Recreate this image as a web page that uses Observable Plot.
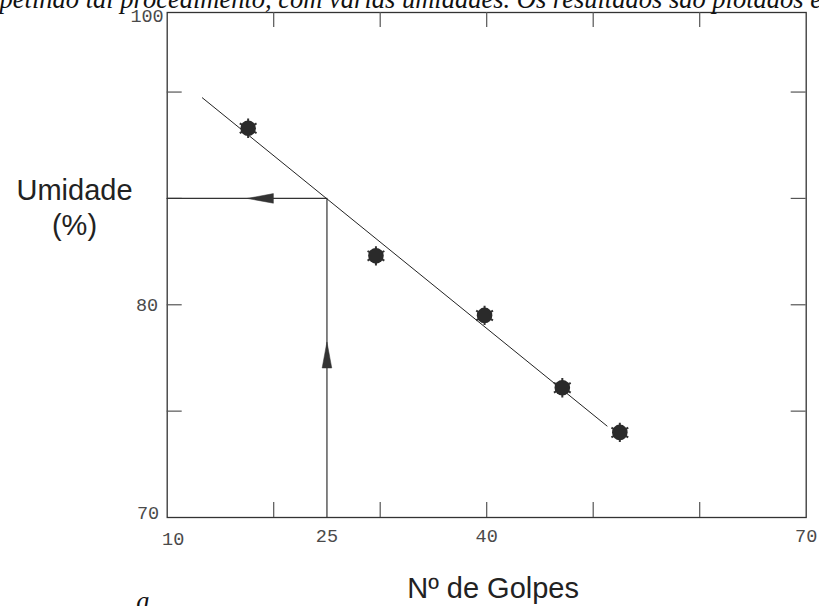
<!DOCTYPE html>
<html><head><meta charset="utf-8">
<script src="https://cdn.jsdelivr.net/npm/d3@7"></script>
<script src="https://cdn.jsdelivr.net/npm/@observablehq/plot@0.6"></script>
<style>
html,body{margin:0;padding:0;background:#fff;overflow:hidden}
#chart{position:relative;width:819px;height:606px}
</style></head><body><div id="chart"></div>
<script>
// ---- data ----
const golpes = [17.6, 29.6, 39.8, 47.1, 52.5];
const umidade = [88.3, 82.3, 79.5, 76.1, 74.0];
const fitGolpes = [13.3, 51.3];
const fitUmidade = [89.73, 74.3];
const refGolpes = [10, 25, 25];
const refUmidade = [85, 85, 70];
const arrowGolpes = [18.75, 25];
const arrowUmidade = [85, 77.64];
const arrowRotate = [-90, 0];
const xDomain = [10, 70];
const yDomain = [70, 93.74];
const xTicks = [20, 30, 40, 50, 60];
const yTicks = [75, 80, 85, 90];
const xLabelValues = [10, 25, 40, 70];
const xLabelTexts = ["10", "25", "40", "70"];
const yLabelValues = [70, 80, 93.74];
const yLabelTexts = ["70", "80", "100"];
const caption = "repetindo tal procedimento, com várias umidades. Os resultados são plotados em";
const yTitle = "Umidade\n(%)";
const xTitle = "Nº de Golpes";
const footLetter = "a";

// ---- layout ----
const W = 819, H = 606;
const mL = 166.7, mR = 13.3, mT = 12, mB = 89;
const frameH = H - mT - mB, frameW = W - mL - mR;
const tickLen = 15;

const points = golpes.map((g, i) => ({g, u: umidade[i]}));
const fit = fitGolpes.map((g, i) => ({g, u: fitUmidade[i]}));
const ref = refGolpes.map((g, i) => ({g, u: refUmidade[i]}));
const arrows = arrowGolpes.map((g, i) => ({g, u: arrowUmidade[i], r: arrowRotate[i]}));
const xLabels = xLabelValues.map((v, i) => ({v, t: xLabelTexts[i]}));
const yLabels = yLabelValues.map((v, i) => ({v, t: yLabelTexts[i]}));

const arrowHead = {draw(ctx) { ctx.moveTo(0, -13); ctx.lineTo(4.8, 13); ctx.lineTo(-4.8, 13); ctx.closePath(); }};

const monoFont = {fontFamily: "Liberation Mono, DejaVu Sans Mono, monospace", fontSize: 18.5, fill: "#4a4a4a"};
const sansFont = {fontFamily: "Liberation Sans, Arial, sans-serif", fontSize: 29, fill: "#222"};
const serifItalic = {fontFamily: "Liberation Serif, Times New Roman, serif", fontStyle: "italic", fontSize: 26.5, fill: "#111"};

const chart = Plot.plot({
  width: W, height: H,
  marginLeft: mL, marginRight: mR, marginTop: mT, marginBottom: mB,
  x: {domain: xDomain, axis: null},
  y: {domain: yDomain, axis: null},
  marks: [
    Plot.frame({stroke: "#333", strokeWidth: 1.3}),
    Plot.tickX(xTicks, {x: d => d, insetTop: frameH - tickLen, stroke: "#555", strokeWidth: 1.2}),
    Plot.tickX(xTicks, {x: d => d, insetBottom: frameH - tickLen, stroke: "#555", strokeWidth: 1.2}),
    Plot.tickY(yTicks, {y: d => d, insetRight: frameW - tickLen, stroke: "#555", strokeWidth: 1.2}),
    Plot.tickY(yTicks, {y: d => d, insetLeft: frameW - tickLen, stroke: "#555", strokeWidth: 1.2}),
    Plot.line(ref, {x: "g", y: "u", stroke: "#333", strokeWidth: 1.2}),
    Plot.line(fit, {x: "g", y: "u", stroke: "#222", strokeWidth: 1}),
    Plot.dot(arrows, {x: "g", y: "u", rotate: "r", symbol: arrowHead, fill: "#333", stroke: "#333", strokeWidth: 0.5}),
    Plot.dot(points, {x: "g", y: "u", r: 9.2, symbol: "asterisk", stroke: "#333", strokeWidth: 2}),
    Plot.dot(points, {x: "g", y: "u", r: 7.8, fill: "#2a2a2a", stroke: "none"}),
    // tick labels
    Plot.text(xLabels.slice(0, 1), {x: "v", text: "t", frameAnchor: "bottom", dy: 22, dx: 6, lineAnchor: "middle", ...monoFont}),
    Plot.text(xLabels.slice(1), {x: "v", text: "t", frameAnchor: "bottom", dy: 19, lineAnchor: "middle", ...monoFont}),
    Plot.text(yLabels.slice(0, 1), {y: "v", text: "t", frameAnchor: "left", dx: -8, dy: -4, textAnchor: "end", lineAnchor: "middle", ...monoFont}),
    Plot.text(yLabels.slice(1, 2), {y: "v", text: "t", frameAnchor: "left", dx: -9, textAnchor: "end", lineAnchor: "middle", ...monoFont}),
    Plot.text(yLabels.slice(2), {y: "v", text: "t", frameAnchor: "left", dx: -3.5, dy: 4, textAnchor: "end", lineAnchor: "middle", ...monoFont}),
    // titles
    Plot.text([yTitle], {frameAnchor: "left", dx: -92.7, dy: -30.5, textAnchor: "middle", lineAnchor: "bottom", lineHeight: 1.19, ...sansFont}),
    Plot.text([xTitle], {frameAnchor: "bottom", dx: 6.4, dy: 80, textAnchor: "middle", lineAnchor: "bottom", ...sansFont}),
    Plot.text([caption], {frameAnchor: "top-left", dx: -mL - 22, dy: -mT + 7, textAnchor: "start", lineAnchor: "bottom", ...serifItalic}),
    Plot.text([footLetter], {frameAnchor: "bottom-left", dx: -31, dy: mB + 3, textAnchor: "start", lineAnchor: "bottom", ...serifItalic})
  ]
});
document.getElementById("chart").appendChild(chart);
</script>
</body></html>
